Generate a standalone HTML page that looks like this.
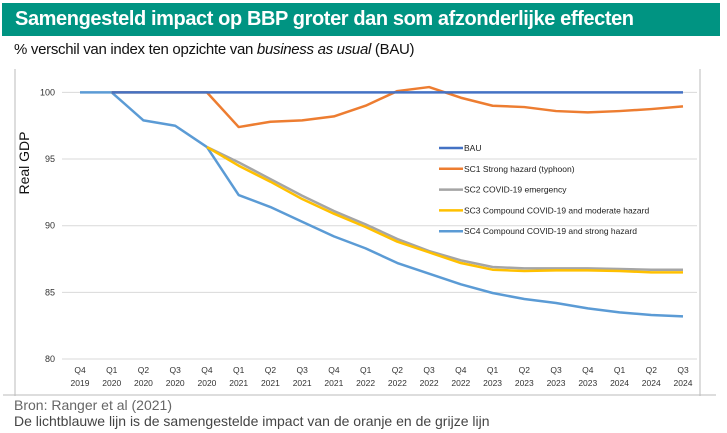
<!DOCTYPE html>
<html><head><meta charset="utf-8"><style>
body{margin:0;width:727px;height:433px;background:#fff;font-family:"Liberation Sans",sans-serif;overflow:hidden;position:relative}
#title{position:absolute;left:2px;top:3px;width:718px;height:33px;background:#009482;color:#fff;font-weight:bold;font-size:20px;line-height:33px;padding-left:13px;box-sizing:border-box;letter-spacing:-0.4px}
#sub{position:absolute;left:14px;top:41px;font-size:15px;color:#111;letter-spacing:-0.3px}
.foot{position:absolute;left:14px;font-size:14px;color:#666}
</style></head><body>
<div id="title">Samengesteld impact op BBP groter dan som afzonderlijke effecten</div>
<div id="sub">% verschil van index ten opzichte van <i>business as usual</i> (BAU)</div>
<svg id="chart" width="727" height="433" style="position:absolute;left:0;top:0">
<line x1="15" y1="69" x2="15" y2="396" stroke="#bbb"/>
<line x1="700" y1="69" x2="700" y2="396" stroke="#bbb"/>
<line x1="3" y1="395" x2="716" y2="395" stroke="#bbb"/>
<text x="29" y="163" transform="rotate(-90 29 163)" text-anchor="middle" font-size="14" fill="#111">Real GDP</text>
<g id="grid"></g><g id="series"></g><g id="legend"></g>
</svg>
<div class="foot" style="top:397px">Bron: Ranger et al (2021)</div>
<div class="foot" style="top:413px;color:#444">De lichtblauwe lijn is de samengestelde impact van de oranje en de grijze lijn</div>
<script>
const categories=["Q4|2019","Q1|2020","Q2|2020","Q3|2020","Q4|2020","Q1|2021","Q2|2021","Q3|2021","Q4|2021","Q1|2022","Q2|2022","Q3|2022","Q4|2022","Q1|2023","Q2|2023","Q3|2023","Q4|2023","Q1|2024","Q2|2024","Q3|2024"];
const yTicks=[80,85,90,95,100];
const bau=[100,100,100,100,100,100,100,100,100,100,100,100,100,100,100,100,100,100,100,100];
const sc1=[100,100,100,100,100,97.4,97.8,97.9,98.2,99.0,100.1,100.4,99.6,99.0,98.9,98.6,98.5,98.6,98.75,98.95];
const sc2=[100,100,97.9,97.5,95.9,94.75,93.5,92.25,91.1,90.1,89.0,88.1,87.4,86.9,86.8,86.8,86.8,86.75,86.7,86.7];
const sc3=[100,100,97.9,97.5,95.9,94.5,93.3,92.0,90.9,89.9,88.8,88.0,87.2,86.7,86.6,86.65,86.65,86.6,86.5,86.5];
const sc4=[100,100,97.9,97.5,95.9,92.3,91.4,90.3,89.2,88.3,87.2,86.4,85.6,84.95,84.5,84.2,83.8,83.5,83.3,83.2];
const names=["BAU","SC1 Strong hazard (typhoon)","SC2 COVID-19 emergency","SC3 Compound COVID-19 and moderate hazard","SC4 Compound COVID-19 and strong hazard"];
const NS="http://www.w3.org/2000/svg";
const x=i=>80+i*(603/(categories.length-1));
const y=v=>359-(v-80)*13.33;
function mk(t,a,p){const e=document.createElementNS(NS,t);for(const k in a)e.setAttribute(k,a[k]);p.appendChild(e);return e;}
const grid=document.getElementById('grid');
yTicks.forEach(v=>{
  const l=mk('line',{x1:62,x2:697,y1:y(v),y2:y(v),stroke:'#d9d9d9'},grid);
  
  
  const t=mk('text',{x:55,y:y(v)+3,'text-anchor':'end','font-size':9,fill:'#333'},grid);t.textContent=v;
  
  
});
categories.forEach((c,i)=>{
  const [q,yr]=c.split('|');
  const t=mk('text',{x:x(i),y:373,'text-anchor':'middle','font-size':8.5,fill:'#333'},grid);
  
  
  mk('tspan',{x:x(i)},t).textContent=q;
  mk('tspan',{x:x(i),dy:13},t).textContent=yr;
});
const sg=document.getElementById('series');
const lg=document.getElementById('legend');
const defs=[[bau,'#4472c4',1],[sc1,'#ed7d31',1],[sc2,'#a5a5a5',4],[sc3,'#ffc000',4],[sc4,'#5b9bd5',0]];
const order=[4,2,3,1,0];
order.forEach(k=>{
  const [d,c,s]=defs[k];
  const pts=d.map((v,i)=>[i,v]).filter(p=>p[0]>=s).map(p=>x(p[0])+','+y(p[1])).join(' ');
  const pl=mk('polyline',{points:pts,fill:'none',stroke:c,'stroke-width':2.5,'stroke-linejoin':'round'},sg);
  
  
});
names.forEach((n,k)=>{
  const yy=148+k*20.8;
  const g=mk('g',{},lg);
  
  
  mk('line',{x1:439,x2:463,y1:yy,y2:yy,stroke:defs[k][1],'stroke-width':2.5},g);
  mk('text',{x:464,y:yy+3,'font-size':8.5,fill:'#222'},g).textContent=n;
});
</script>
</body></html>
